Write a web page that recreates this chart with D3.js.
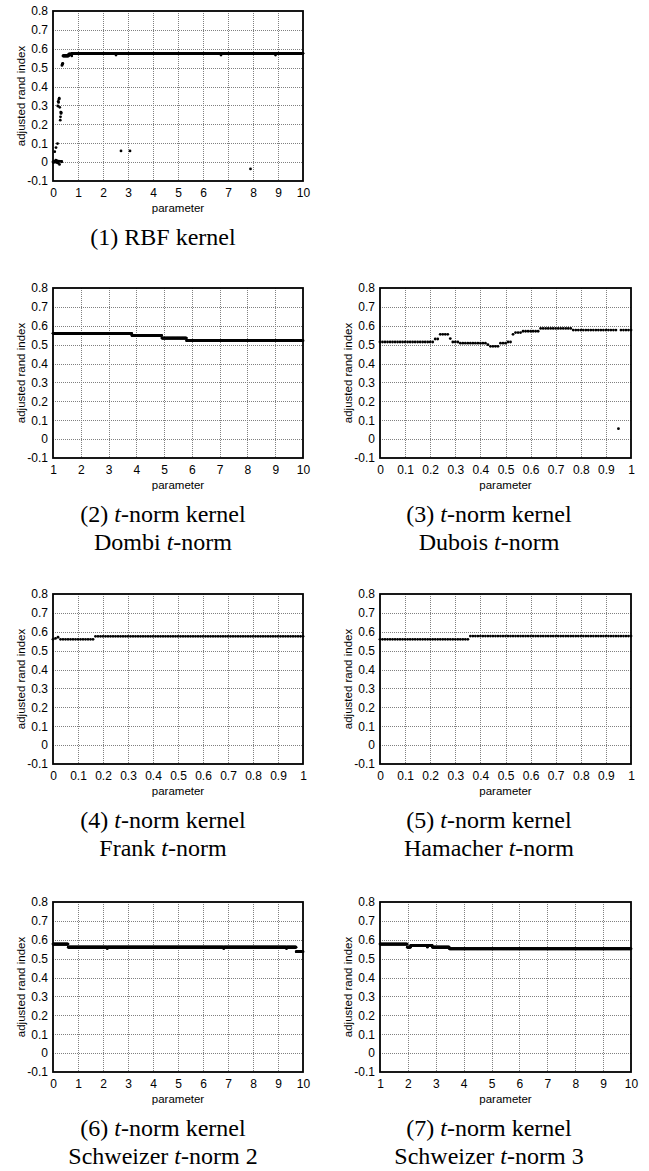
<!DOCTYPE html>
<html>
<head>
<meta charset="utf-8">
<script src="https://cdn.jsdelivr.net/npm/d3@7"></script>
<style>
  body { margin: 0; background: #fff; }
  svg { display: block; }
  .tick text { font-family: "Liberation Sans", Arial, sans-serif; font-size: 12px; fill: #000; }
  .axis-title { font-family: "Liberation Sans", Arial, sans-serif; font-size: 11.5px; fill: #000; }
  .caption { font-family: "Liberation Serif", "Times New Roman", serif; font-size: 24px; fill: #000; }
</style>
</head>
<body>
<svg id="fig" width="649" height="1171"></svg>
<script>
// Adjusted rand index vs. kernel parameter, one panel per kernel.
// Plateaus are stored as runs [fromParam, toParam, ARI] sampled on the
// parameter grid; isolated / irregular results are stored as [param, ARI].

const yTicks = [-0.1, 0, 0.1, 0.2, 0.3, 0.4, 0.5, 0.6, 0.7, 0.8];
const xTicks0to10 = [0, 1, 2, 3, 4, 5, 6, 7, 8, 9, 10];
const xTicks1to10 = [1, 2, 3, 4, 5, 6, 7, 8, 9, 10];
const xTicks0to1 = [0, 0.1, 0.2, 0.3, 0.4, 0.5, 0.6, 0.7, 0.8, 0.9, 1];

// (1) RBF kernel
const rbfRuns = [
  [0.40, 0.62, 0.562],
  [0.63, 0.74, 0.571],
  [0.76, 10.0, 0.576]
];
const rbfPoints = [
  [0.00, 0.000], [0.01, 0.001], [0.02, 0.000], [0.03, 0.002], [0.04, 0.000],
  [0.05, 0.003], [0.06, 0.001], [0.07, 0.055], [0.08, 0.002], [0.09, 0.000],
  [0.10, 0.004], [0.11, 0.010], [0.12, 0.077], [0.13, 0.006], [0.14, 0.002],
  [0.15, 0.008], [0.16, -0.002], [0.17, 0.003], [0.18, 0.098], [0.19, 0.297],
  [0.20, -0.005], [0.21, 0.322], [0.22, 0.316], [0.23, 0.005], [0.24, 0.333],
  [0.25, 0.338], [0.26, -0.012], [0.27, 0.290], [0.28, 0.004], [0.29, 0.222],
  [0.30, 0.240], [0.31, 0.265], [0.32, 0.258], [0.33, 0.262], [0.34, 0.004],
  [0.35, 0.002], [0.36, 0.512], [0.37, 0.518], [0.38, 0.520], [0.39, 0.523],
  [0.75, 0.562],
  [2.52, 0.567], [2.72, 0.059], [3.08, 0.059], [6.72, 0.567], [7.90, -0.036], [8.90, 0.567]
];

// (2) Dombi t-norm
const dombiRuns = [
  [1.00, 3.83, 0.560],
  [3.84, 4.91, 0.549],
  [4.92, 5.80, 0.535],
  [5.81, 10.0, 0.521]
];
const dombiPoints = [];

// (3) Dubois t-norm
const duboisRuns = [
  [0.00, 0.21, 0.514],
  [0.22, 0.23, 0.530],
  [0.24, 0.27, 0.555],
  [0.28, 0.28, 0.532],
  [0.29, 0.31, 0.514],
  [0.32, 0.42, 0.508],
  [0.43, 0.43, 0.500],
  [0.44, 0.47, 0.491],
  [0.48, 0.50, 0.508],
  [0.51, 0.52, 0.514],
  [0.53, 0.53, 0.555],
  [0.54, 0.56, 0.564],
  [0.57, 0.63, 0.571],
  [0.64, 0.76, 0.586],
  [0.77, 0.94, 0.577],
  [0.96, 1.00, 0.577]
];
const duboisPoints = [[0.95, 0.055]];

// (4) Frank t-norm
const frankRuns = [
  [0.03, 0.16, 0.560],
  [0.17, 1.00, 0.576]
];
const frankPoints = [[0.00, 0.560], [0.01, 0.565], [0.02, 0.571]];

// (5) Hamacher t-norm
const hamacherRuns = [
  [0.00, 0.35, 0.560],
  [0.36, 1.00, 0.577]
];
const hamacherPoints = [];

// (6) Schweizer t-norm 2
const schweizer2Runs = [
  [0.00, 0.60, 0.577],
  [0.61, 9.72, 0.561],
  [9.73, 10.0, 0.537]
];
const schweizer2Points = [[2.17, 0.553], [6.83, 0.553], [9.34, 0.553]];

// (7) Schweizer t-norm 3
const schweizer3Runs = [
  [1.00, 1.97, 0.577],
  [1.98, 2.09, 0.561],
  [2.10, 2.87, 0.570],
  [2.88, 3.48, 0.561],
  [3.49, 10.0, 0.552]
];
const schweizer3Points = [[2.70, 0.561]];

const captions = [
  ["(1) RBF kernel"],
  ["(2) t-norm kernel", "Dombi t-norm"],
  ["(3) t-norm kernel", "Dubois t-norm"],
  ["(4) t-norm kernel", "Frank t-norm"],
  ["(5) t-norm kernel", "Hamacher t-norm"],
  ["(6) t-norm kernel", "Schweizer t-norm 2"],
  ["(7) t-norm kernel", "Schweizer t-norm 3"]
];

const panels = [
  { runs: rbfRuns, points: rbfPoints, step: 0.01, xDomain: [0, 10], xTicks: xTicks0to10, col: 0, row: 0, caption: captions[0] },
  { runs: dombiRuns, points: dombiPoints, step: 0.01, xDomain: [1, 10], xTicks: xTicks1to10, col: 0, row: 1, caption: captions[1] },
  { runs: duboisRuns, points: duboisPoints, step: 0.01, xDomain: [0, 1], xTicks: xTicks0to1, col: 1, row: 1, caption: captions[2] },
  { runs: frankRuns, points: frankPoints, step: 0.01, xDomain: [0, 1], xTicks: xTicks0to1, col: 0, row: 2, caption: captions[3] },
  { runs: hamacherRuns, points: hamacherPoints, step: 0.01, xDomain: [0, 1], xTicks: xTicks0to1, col: 1, row: 2, caption: captions[4] },
  { runs: schweizer2Runs, points: schweizer2Points, step: 0.01, xDomain: [0, 10], xTicks: xTicks0to10, col: 0, row: 3, caption: captions[5] },
  { runs: schweizer3Runs, points: schweizer3Points, step: 0.01, xDomain: [1, 10], xTicks: xTicks1to10, col: 1, row: 3, caption: captions[6] }
];

// Page layout
const colLeft = [53, 380];
const colWidth = [250, 251];
const captionCenter = [163, 489];
const rowTop = [11, 288, 594, 902];
const plotH = 170;

const svg = d3.select("#fig");

// Expand runs on the parameter grid, letting explicit points take precedence.
function samples(p) {
  const own = new Set(p.points.map(d => Math.round(d[0] / p.step)));
  const out = [];
  p.runs.forEach(([a, b, v]) => {
    const k0 = Math.round(a / p.step), k1 = Math.round(b / p.step);
    for (let k = k0; k <= k1; k++) {
      if (!own.has(k)) out.push([k * p.step, v]);
    }
  });
  return out.concat(p.points);
}

function fmt(d) {
  return d === 0 ? "0" : String(+d.toFixed(2));
}

panels.forEach(p => {
  const w = colWidth[p.col];
  const g = svg.append("g")
    .attr("transform", `translate(${colLeft[p.col]},${rowTop[p.row]})`);

  const x = d3.scaleLinear().domain(p.xDomain).range([0, w]);
  const y = d3.scaleLinear().domain([-0.1, 0.8]).range([plotH, 0]);

  // dotted grid
  const grid = g.append("g")
    .attr("stroke", "#808080")
    .attr("stroke-width", 1)
    .attr("stroke-dasharray", "1,1")
    .attr("shape-rendering", "crispEdges");
  grid.selectAll("line.v")
    .data(p.xTicks.slice(1, -1))
    .join("line")
    .attr("x1", d => Math.round(x(d)) + 0.5).attr("x2", d => Math.round(x(d)) + 0.5)
    .attr("y1", 0).attr("y2", plotH);
  grid.selectAll("line.h")
    .data(yTicks.slice(1, -1))
    .join("line")
    .attr("y1", d => Math.round(y(d)) + 0.5).attr("y2", d => Math.round(y(d)) + 0.5)
    .attr("x1", 0).attr("x2", w);

  // axes
  const ax = g.append("g")
    .attr("transform", `translate(0,${plotH})`)
    .call(d3.axisBottom(x).tickValues(p.xTicks).tickSize(0).tickPadding(7).tickFormat(fmt));
  ax.select(".domain").remove();

  const ay = g.append("g")
    .call(d3.axisLeft(y).tickValues(yTicks).tickSize(0).tickPadding(5).tickFormat(fmt));
  ay.select(".domain").remove();

  // frame
  g.append("rect")
    .attr("x", 0).attr("y", 0).attr("width", w).attr("height", plotH)
    .attr("fill", "none").attr("stroke", "#000").attr("stroke-width", 1.8);

  // results
  g.append("g").selectAll("circle")
    .data(samples(p))
    .join("circle")
    .attr("cx", d => x(d[0]))
    .attr("cy", d => y(d[1]))
    .attr("r", 1.4)
    .attr("fill", "#000");

  // axis titles
  g.append("text")
    .attr("class", "axis-title")
    .attr("text-anchor", "middle")
    .attr("x", w / 2).attr("y", plotH + 31)
    .text("parameter");
  g.append("text")
    .attr("class", "axis-title")
    .attr("text-anchor", "middle")
    .attr("transform", `translate(-28,${plotH / 2}) rotate(-90)`)
    .text("adjusted rand index");

  // caption, with the "t" of t-norm in italics
  p.caption.forEach((line, i) => {
    const t = svg.append("text")
      .attr("class", "caption")
      .attr("text-anchor", "middle")
      .attr("x", captionCenter[p.col])
      .attr("y", rowTop[p.row] + plotH + 64 + i * 28);
    line.split(/(\bt(?=-norm))/).filter(s => s.length).forEach(s => {
      t.append("tspan")
        .attr("font-style", s === "t" ? "italic" : null)
        .text(s);
    });
  });
});
</script>
</body>
</html>
